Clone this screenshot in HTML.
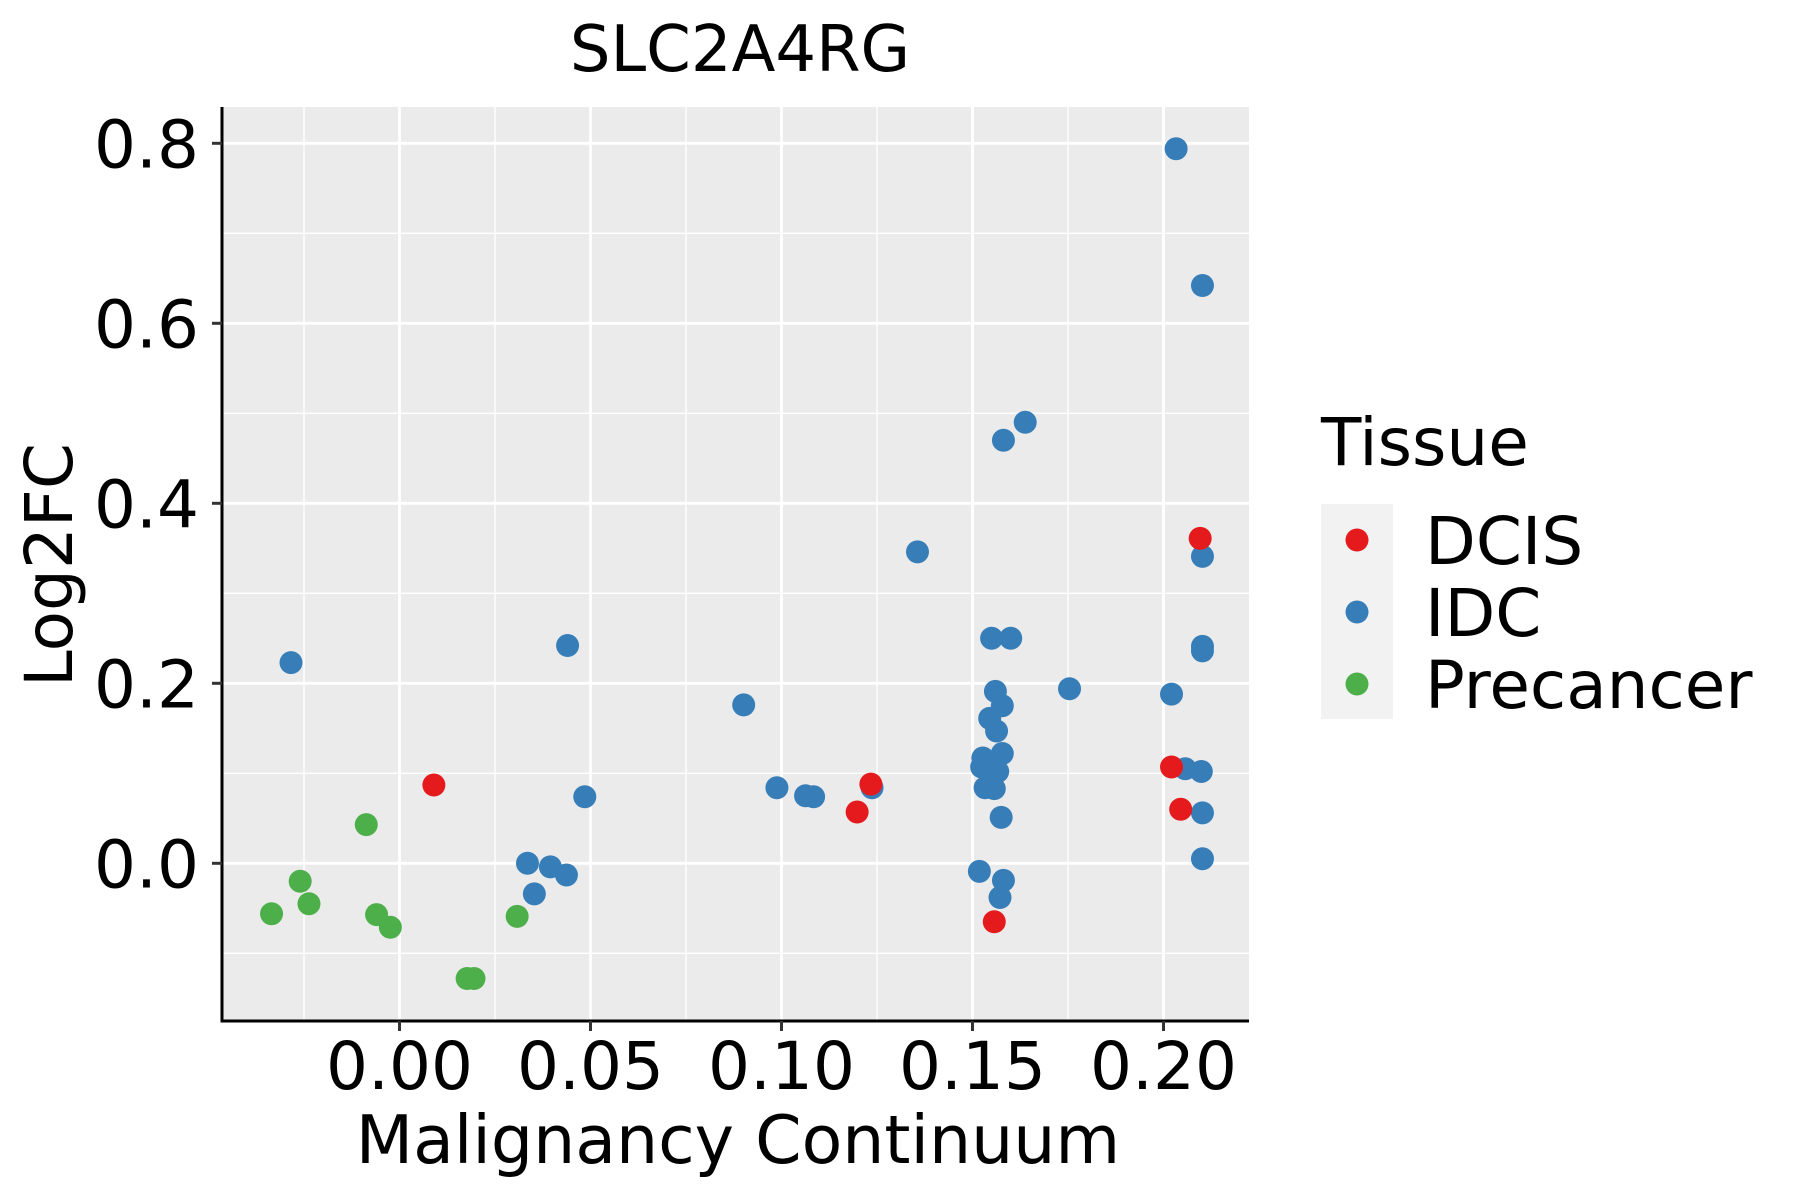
<!DOCTYPE html>
<html><head><meta charset="utf-8"><style>
html,body{margin:0;padding:0;background:#fff;}
svg{display:block;font-family:"DejaVu Sans","Liberation Sans",sans-serif;}
</style></head><body>
<svg id="chart" width="1800" height="1200" viewBox="0 0 1800 1200">
<text x="740" y="71" font-size="64" text-anchor="middle">SLC2A4RG</text>
<rect x="222" y="107" width="1027" height="914" fill="#EBEBEB"/>
<g id="grid"></g>
<g id="points"></g>
<g id="axes"></g>
<text transform="translate(72,565) rotate(-90)" font-size="66" text-anchor="middle">Log2FC</text>
<text x="738" y="1163" font-size="66.5" text-anchor="middle">Malignancy Continuum</text>
<g>
<text x="1321" y="465" font-size="66">Tissue</text>
<rect x="1321" y="504" width="72" height="215" fill="#F2F2F2"/>
<circle cx="1357" cy="540" r="11.5" fill="#E41A1C"/>
<circle cx="1357" cy="612" r="11.5" fill="#377EB8"/>
<circle cx="1357" cy="684" r="11.5" fill="#4DAF4A"/>
<text x="1425" y="564" font-size="66">DCIS</text>
<text x="1425" y="636" font-size="66">IDC</text>
<text x="1425" y="708" font-size="66">Precancer</text>
</g>
</svg>
<script>
const xTicks = [0, 0.05, 0.10, 0.15, 0.20];
const xTickLabels = ["0.00", "0.05", "0.10", "0.15", "0.20"];
const xMinor = [-0.025, 0.025, 0.075, 0.125, 0.175];
const yTicks = [0, 0.2, 0.4, 0.6, 0.8];
const yTickLabels = ["0.0", "0.2", "0.4", "0.6", "0.8"];
const yMinor = [-0.1, 0.1, 0.3, 0.5, 0.7];

const idcX = [-0.0284,0.2033,0.2102,0.1638,0.1581,0.1356,0.2102,0.044,0.155,0.160,0.2102,0.2102,0.1754,0.2021,0.156,0.1578,0.0901,0.1545,0.1563,0.1578,0.1527,0.1545,0.1524,0.1566,0.2057,0.2099,0.0988,0.1533,0.1557,0.1237,0.1063,0.1084,0.0485,0.1575,0.2102,0.2102,0.0335,0.0395,0.0437,0.1518,0.1581,0.0353,0.1572];
const idcY = [0.223,0.794,0.642,0.490,0.470,0.346,0.341,0.242,0.25,0.25,0.241,0.236,0.194,0.188,0.191,0.175,0.176,0.161,0.147,0.122,0.117,0.111,0.107,0.102,0.105,0.102,0.084,0.084,0.083,0.084,0.075,0.074,0.074,0.051,0.056,0.005,0.000,-0.004,-0.013,-0.009,-0.019,-0.034,-0.038];
const dcisX = [0.009,0.1234,0.1198,0.2096,0.2021,0.2045,0.1557];
const dcisY = [0.087,0.088,0.057,0.361,0.107,0.060,-0.065];
const preX = [-0.0087,-0.026,-0.0237,-0.0335,-0.006,-0.0024,0.0308,0.0177,0.0195];
const preY = [0.043,-0.020,-0.045,-0.056,-0.057,-0.071,-0.059,-0.128,-0.128];

const NS = "http://www.w3.org/2000/svg";
const PL = 222, PR = 1249, PT = 107, PB = 1021;
function sx(v){ return 399.5 + v * 3820; }
function sy(v){ return 863.3 - v * 900; }
function mk(tag, attrs, parent){
  const e = document.createElementNS(NS, tag);
  for (const k in attrs) e.setAttribute(k, attrs[k]);
  parent.appendChild(e);
  return e;
}
const grid = document.getElementById('grid');
xMinor.forEach(v => {
  const l = mk('line', {x1:sx(v), x2:sx(v), y1:PT, y2:PB, stroke:'#fff', 'stroke-width':1.4}, grid);
  
  
});
yMinor.forEach(v => {
  const l = mk('line', {x1:PL, x2:PR, y1:sy(v), y2:sy(v), stroke:'#fff', 'stroke-width':1.4}, grid);
  
  
});
xTicks.forEach(v => {
  const l = mk('line', {x1:sx(v), x2:sx(v), y1:PT, y2:PB, stroke:'#fff', 'stroke-width':2.8}, grid);
  
  
});
yTicks.forEach(v => {
  const l = mk('line', {x1:PL, x2:PR, y1:sy(v), y2:sy(v), stroke:'#fff', 'stroke-width':2.8}, grid);
  
  
});
const pts = document.getElementById('points');
function series(xs, ys, color, name){
  xs.forEach((x, i) => {
    const c = mk('circle', {cx:sx(x), cy:sy(ys[i]), r:11.5, fill:color}, pts);
    
    
  });
}
series(idcX, idcY, '#377EB8', 'point-idc');
series(dcisX, dcisY, '#E41A1C', 'point-dcis');
series(preX, preY, '#4DAF4A', 'point-precancer');

const axes = document.getElementById('axes');
const ya = mk('line', {x1:PL, x2:PL, y1:PT, y2:PB+1.5, stroke:'#000', 'stroke-width':3}, axes);


const xa = mk('line', {x1:PL-1.5, x2:PR, y1:PB, y2:PB, stroke:'#000', 'stroke-width':3}, axes);


xTicks.forEach((v, i) => {
  const t = mk('line', {x1:sx(v), x2:sx(v), y1:PB, y2:PB+10, stroke:'#333', 'stroke-width':3}, axes);
  
  
  const tx = mk('text', {x:sx(v), y:1089, 'font-size':66, 'text-anchor':'middle'}, axes);
  tx.textContent = xTickLabels[i];
  
  
});
yTicks.forEach((v, i) => {
  const t = mk('line', {x1:PL-10, x2:PL, y1:sy(v), y2:sy(v), stroke:'#333', 'stroke-width':3}, axes);
  
  
  const tx = mk('text', {x:199, y:sy(v)+24, 'font-size':66, 'text-anchor':'end'}, axes);
  tx.textContent = yTickLabels[i];
  
  
});
</script>
</body></html>
